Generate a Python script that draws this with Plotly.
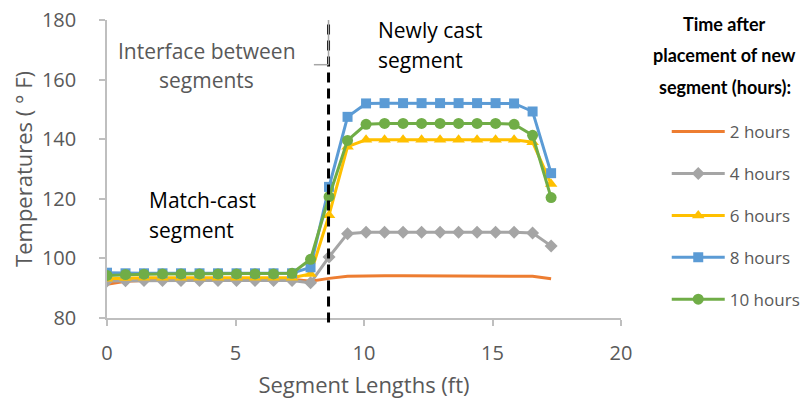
import plotly.graph_objects as go

# ---- data ----
seg_len_ft = [0.00, 0.72, 1.44, 2.16, 2.88, 3.60, 4.32, 5.04, 5.76, 6.48, 7.20, 7.92,
              8.64, 9.36, 10.08, 10.80, 11.52, 12.24, 12.96, 13.68, 14.40, 15.12, 15.84, 16.56, 17.28]

temp_2h = [91.3, 92.3, 92.6, 92.8, 92.9, 93.0, 93.0, 93.0, 93.0, 93.0, 93.0, 92.3,
           93.3, 94.0, 94.2, 94.2, 94.2, 94.2, 94.2, 94.2, 94.2, 94.2, 94.2, 94.0, 93.2]
temp_4h = [92.4, 92.5, 92.6, 92.6, 92.6, 92.6, 92.6, 92.6, 92.6, 92.6, 92.6, 91.8,
           100.5, 108.3, 108.8, 108.8, 108.8, 108.8, 108.8, 108.8, 108.8, 108.8, 108.8, 108.5, 104.2]
temp_6h = [93.2, 93.4, 93.5, 93.5, 93.5, 93.5, 93.5, 93.5, 93.5, 93.5, 93.5, 94.8,
           114.5, 137.5, 139.8, 139.8, 139.8, 139.8, 139.8, 139.8, 139.8, 139.8, 139.8, 139.0, 125.0]
temp_8h = [95.2, 95.0, 95.0, 95.0, 95.0, 95.0, 95.0, 95.0, 95.0, 95.0, 95.0, 97.0,
           124.0, 147.5, 152.0, 152.1, 152.1, 152.1, 152.1, 152.1, 152.1, 152.1, 152.0, 149.3, 128.6]
temp_10h = [94.3, 94.6, 94.7, 94.8, 94.8, 94.8, 94.8, 94.8, 94.8, 94.8, 95.0, 99.7,
            120.7, 139.6, 145.0, 145.3, 145.3, 145.3, 145.3, 145.3, 145.3, 145.3, 145.0, 141.3, 120.4]

series_names = ["2 hours", "4 hours", "6 hours", "8 hours", "10 hours"]
x_ticks = [0, 5, 10, 15, 20]
y_ticks = [80, 100, 120, 140, 160, 180]
interface_x = 8.62

# ---- styles ----
FONT = "'Open Sans', Lato, sans-serif"
TITLE_FONT = "Lato, 'Open Sans', sans-serif"
GRAY_TXT = "#595959"
AXIS_CLR = "#BFBFBF"
colors = ["#ED7D31", "#A5A5A5", "#FFC000", "#5B9BD5", "#70AD47"]
symbols = [None, "diamond", "triangle-up", "square", "circle"]
msizes = [0, 10, 11, 10, 11]
all_series = [temp_2h, temp_4h, temp_6h, temp_8h, temp_10h]

fig = go.Figure()
for name, ys, c, s, ms in zip(series_names, all_series, colors, symbols, msizes):
    if s is None:
        fig.add_trace(go.Scatter(x=seg_len_ft, y=ys, name=name, mode="lines",
                                 line=dict(color=c, width=3), legendgroup=name))
    else:
        fig.add_trace(go.Scatter(x=seg_len_ft, y=ys, name=name, mode="lines+markers",
                                 line=dict(color=c, width=3),
                                 marker=dict(symbol=s, size=ms, color=c, line=dict(width=0)),
                                 legendgroup=name))

# interface dashed line
fig.add_shape(type="line", xref="x", yref="paper", x0=interface_x, x1=interface_x,
              y0=-0.015, y1=1.0, line=dict(color="black", width=3, dash="10px,6px"))
# callout bracket for "Interface between segments"
fig.add_shape(type="line", xref="x", yref="y", x0=interface_x, x1=interface_x,
              y0=165, y1=180, line=dict(color="#A6A6A6", width=1.5))
fig.add_shape(type="line", xref="x", yref="y", x0=8.05, x1=interface_x,
              y0=165, y1=165, line=dict(color="#A6A6A6", width=1.5))

def txt(x, y, t, color, xanchor="center", bold=False, xref="x", yref="y", size=21, family=FONT):
    fig.add_annotation(x=x, y=y, xref=xref, yref=yref, text=(f"<b>{t}</b>" if bold else t),
                       showarrow=False, xanchor=xanchor, yanchor="middle",
                       font=dict(family=family, size=size, color=color))

txt(3.89, 169.5, "Interface between", GRAY_TXT)
txt(3.89, 159.9, "segments", GRAY_TXT)
txt(1.55, 119.7, "Match-cast", "black", xanchor="left")
txt(1.55, 109.6, "segment", "black", xanchor="left")
txt(10.45, 176.5, "Newly cast", "black", xanchor="left")
txt(10.45, 166.7, "segment", "black", xanchor="left")

# legend title (three lines)
txt(1.2023, 0.988, "Time after", "black", bold=True, xref="paper", yref="paper", size=18, family=TITLE_FONT)
txt(1.2023, 0.884, "placement of new", "black", bold=True, xref="paper", yref="paper", size=18, family=TITLE_FONT)
txt(1.2023, 0.776, "segment (hours):", "black", bold=True, xref="paper", yref="paper", size=18, family=TITLE_FONT)

fig.update_layout(
    width=801, height=397,
    margin=dict(l=99, r=188, t=12, b=87, autoexpand=False),
    paper_bgcolor="white", plot_bgcolor="white",
    font=dict(family=FONT, color=GRAY_TXT, size=20),
    showlegend=True,
    legend=dict(x=1.089, y=0.6844, xanchor="left", yanchor="top",
                font=dict(family=FONT, size=17, color=GRAY_TXT),
                itemwidth=53, tracegroupgap=16.8, traceorder="grouped",
                bgcolor="rgba(0,0,0,0)", borderwidth=0),
    xaxis=dict(range=[0, 20], tickvals=x_ticks, showgrid=False, zeroline=False,
               showline=True, linecolor=AXIS_CLR, linewidth=1.5, automargin=False,
               ticks="outside", ticklen=6, tickcolor=AXIS_CLR, tickwidth=1.5,
               tickfont=dict(size=20, color=GRAY_TXT), ticklabelstandoff=10,
               ticklabeloverflow="allow",
               title=dict(text="Segment Lengths (ft)", font=dict(size=22, color=GRAY_TXT), standoff=13)),
    yaxis=dict(range=[80, 180], tickvals=y_ticks, showgrid=False, zeroline=False,
               showline=True, linecolor=AXIS_CLR, linewidth=1.5, automargin=False,
               ticks="outside", ticklen=6, tickcolor=AXIS_CLR, tickwidth=1.5,
               tickfont=dict(size=20, color=GRAY_TXT), ticklabelstandoff=19,
               ticklabeloverflow="allow",
               title=dict(text="Temperatures ( ° F)", font=dict(size=22, color=GRAY_TXT), standoff=9)),
)

fig.write_html("out.html")
